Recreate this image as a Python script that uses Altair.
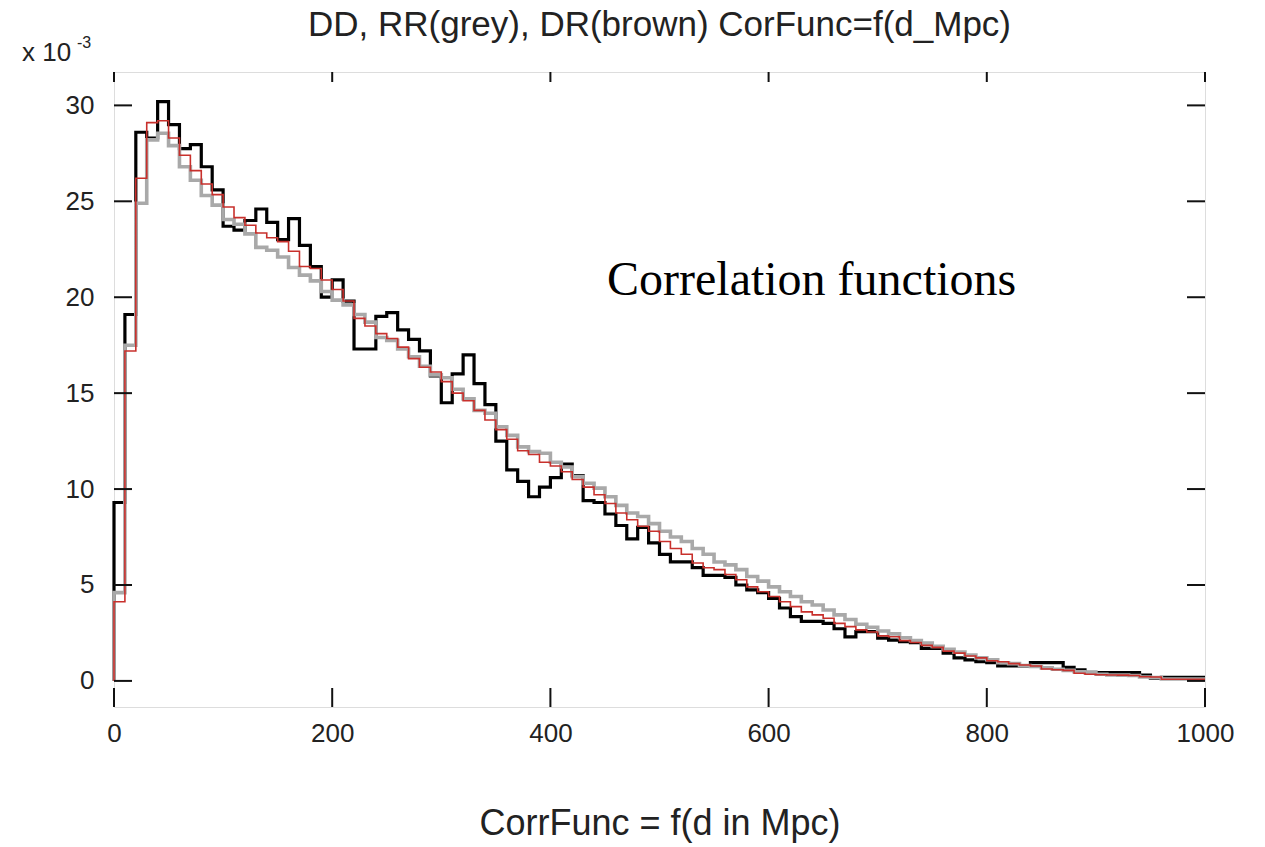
import altair as alt
import pandas as pd

# Bin left edges (Mpc), 10 Mpc wide bins
BIN_LEFT = [10 * i for i in range(100)]
X_MAX = 1000

# Values in units of 1e-3
DD = [9.3, 19.1, 28.6, 28.3, 30.2, 29.0, 27.75, 27.95, 26.8, 25.6,
      23.7, 23.5, 24.0, 24.6, 23.9, 23.0, 24.1, 22.7, 21.6, 20.0,
      20.9, 19.8, 17.3, 17.3, 19.0, 19.2, 18.3, 17.8, 17.2, 15.9,
      14.5, 16.0, 17.0, 15.5, 14.4, 12.5, 11.0, 10.4, 9.6, 10.1,
      10.6, 11.3, 10.7, 9.4, 9.3, 8.7, 8.1, 7.4, 8.0, 7.2,
      6.6, 6.2, 6.2, 5.9, 5.5, 5.5, 5.4, 5.0, 4.75, 4.6,
      4.3, 3.8, 3.35, 3.1, 3.1, 3.0, 2.72, 2.3, 2.57, 2.57,
      2.23, 2.13, 2.05, 2.0, 1.7, 1.7, 1.45, 1.2, 1.1, 1.0,
      0.95, 0.78, 0.78, 0.78, 0.95, 0.95, 0.95, 0.71, 0.57, 0.45,
      0.43, 0.43, 0.43, 0.43, 0.3, 0.15, 0.19, 0.19, 0.19, 0.19]

RR = [4.6, 17.5, 24.9, 28.2, 28.55, 27.9, 26.8, 26.1, 25.3, 24.8,
      24.05, 23.8, 23.3, 22.6, 22.45, 22.1, 21.55, 21.15, 20.85, 20.3,
      19.85, 19.6, 19.1, 18.7, 17.9, 17.75, 17.3, 16.9, 16.4, 15.95,
      15.8, 15.2, 14.7, 14.1, 13.95, 13.25, 12.8, 12.2, 11.95, 11.87,
      11.4, 11.15, 10.65, 10.3, 10.05, 9.6, 9.15, 8.75, 8.57, 8.2,
      7.8, 7.5, 7.27, 6.9, 6.6, 6.2, 6.05, 5.8, 5.44, 5.2,
      4.9, 4.65, 4.4, 4.13, 3.96, 3.7, 3.44, 3.2, 2.95, 2.8,
      2.6, 2.45, 2.25, 2.1, 1.97, 1.8, 1.65, 1.5, 1.35, 1.2,
      1.1, 0.95, 0.9, 0.8, 0.75, 0.68, 0.61, 0.55, 0.48, 0.43,
      0.35, 0.31, 0.3, 0.28, 0.2, 0.18, 0.1, 0.1, 0.1, 0.1]

DR = [4.13, 17.2, 26.2, 29.1, 29.2, 28.3, 27.4, 26.6, 25.9, 25.35,
      24.7, 24.15, 23.75, 23.35, 23.1, 22.9, 22.4, 21.6, 21.5, 20.9,
      20.4, 19.8, 18.9, 18.5, 18.1, 17.85, 17.4, 16.8, 16.35, 16.1,
      15.6, 15.0, 14.6, 14.1, 13.6, 13.1, 12.6, 12.0, 11.8, 11.4,
      11.2, 10.9, 10.5, 10.1, 9.7, 9.25, 8.75, 8.4, 8.06, 7.8,
      7.27, 6.9, 6.6, 6.15, 5.9, 5.8, 5.55, 5.27, 4.9, 4.65,
      4.4, 4.13, 3.87, 3.6, 3.44, 3.27, 3.0, 2.83, 2.66, 2.55,
      2.35, 2.3, 2.1, 2.0, 1.85, 1.75, 1.55, 1.45, 1.3, 1.2,
      1.05, 1.0, 0.9, 0.83, 0.78, 0.62, 0.58, 0.55, 0.4, 0.35,
      0.32, 0.31, 0.3, 0.28, 0.22, 0.2, 0.09, 0.09, 0.09, 0.09]

X_TICKS = [0, 200, 400, 600, 800, 1000]
Y_TICKS = [0, 5, 10, 15, 20, 25, 30]

SERIES = [("DD", DD), ("RR", RR), ("DR", DR)]

rows = []
for name, vals in SERIES:
    k = 0
    rows.append({"series": name, "k": k, "d": BIN_LEFT[0], "v": 0.0}); k += 1
    for x0, v in zip(BIN_LEFT, vals):
        rows.append({"series": name, "k": k, "d": x0, "v": v}); k += 1
    rows.append({"series": name, "k": k, "d": X_MAX, "v": vals[-1]})
df = pd.DataFrame(rows)

W, H = 1091, 635
FONT = "Liberation Sans"
TXT = "#222222"

xscale = alt.Scale(domain=[0, 1000], nice=False, zero=False)
yscale = alt.Scale(domain=[-1.36, 31.74], nice=False, zero=False)

xax = alt.Axis(values=X_TICKS, format="d", grid=False, ticks=False, tickSize=0,
               domain=False, labelFont=FONT, labelFontSize=26, labelColor=TXT,
               labelPadding=13, title="CorrFunc = f(d in Mpc)", titleFont=FONT,
               titleFontSize=36, titleFontWeight="normal", titleColor=TXT,
               titleBaseline="alphabetic", titleY=127, labelFlush=False)
yax = alt.Axis(values=Y_TICKS, format="d", grid=False, ticks=False, tickSize=0,
               domain=False, labelFont=FONT, labelFontSize=26, labelColor=TXT,
               labelPadding=20, title=None, labelFlush=False)

def line(name, color, width):
    return alt.Chart(df).transform_filter(alt.datum.series == name).mark_line(
        interpolate="step-after", color=color, strokeWidth=width, strokeJoin="miter"
    ).encode(
        x=alt.X("d:Q", scale=xscale, axis=xax),
        y=alt.Y("v:Q", scale=yscale, axis=yax),
        order="k:Q",
    )

dd = line("DD", "#000000", 3.2)
rr = line("RR", "#a9a9a9", 3.6)
dr = line("DR", "#c8302c", 1.6)

yt = pd.DataFrame({"t": Y_TICKS})
xt = pd.DataFrame({"t": X_TICKS})
tick_style = dict(color="#111111", strokeWidth=2)
yl = alt.Chart(yt).mark_rule(**tick_style).encode(
    y=alt.Y("t:Q", scale=yscale), x=alt.value(0), x2=alt.value(18))
yr = alt.Chart(yt).mark_rule(**tick_style).encode(
    y=alt.Y("t:Q", scale=yscale), x=alt.value(W - 18), x2=alt.value(W))
xb = alt.Chart(xt).mark_rule(**tick_style).encode(
    x=alt.X("t:Q", scale=xscale), y=alt.value(H - 19), y2=alt.value(H))
xtop = alt.Chart(xt).mark_rule(**tick_style).encode(
    x=alt.X("t:Q", scale=xscale), y=alt.value(0), y2=alt.value(10))

ann = pd.DataFrame({"label": ["Correlation functions"]})
corr = alt.Chart(ann).mark_text(
    font="Liberation Serif", fontSize=48, color="#000000", align="left",
    baseline="alphabetic").encode(
    text="label:N", x=alt.value(493), y=alt.value(223))

ttl = pd.DataFrame({"label": ["DD, RR(grey), DR(brown) CorFunc=f(d_Mpc)"]})
title_t = alt.Chart(ttl).mark_text(
    font=FONT, fontSize=35, color=TXT, align="center", baseline="alphabetic").encode(
    text="label:N", x=alt.value(W / 2), y=alt.value(-36))

mult = pd.DataFrame({"label": ["x 10"]})
mult_t = alt.Chart(mult).mark_text(
    font=FONT, fontSize=26, color=TXT, align="left", baseline="alphabetic").encode(
    text="label:N", x=alt.value(-92), y=alt.value(-11))
exp = pd.DataFrame({"label": ["-3"]})
exp_t = alt.Chart(exp).mark_text(
    font=FONT, fontSize=16, color=TXT, align="left", baseline="alphabetic").encode(
    text="label:N", x=alt.value(-37), y=alt.value(-24))

chart = alt.layer(dd, rr, dr, yl, yr, xb, xtop, corr, title_t, mult_t, exp_t).properties(
    width=W, height=H,
    autosize=alt.AutoSizeParams(type="none"),
    padding={"left": 114, "top": 72, "right": 60, "bottom": 140},
).configure_view(stroke="#111111", strokeWidth=2).configure(background="white")

chart.save("out.html", embed_options={"renderer": "svg", "actions": False})
